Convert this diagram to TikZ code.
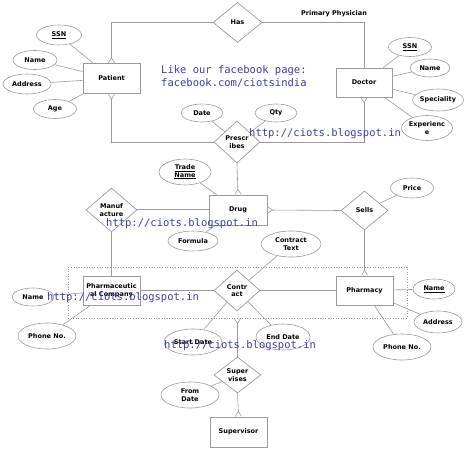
\documentclass[tikz,border=0pt]{standalone}
\usepackage{fontspec}
\setmainfont{DejaVu Sans}
\newfontfamily\linkfont{DejaVu Sans Mono}
\usepackage{xcolor}
\usepackage{tikz}
\usetikzlibrary{shapes.geometric,arrows.meta}
\definecolor{linegray}{RGB}{155,155,155}
\definecolor{linkblue}{RGB}{60,60,175}

\begin{document}
\begin{tikzpicture}[x=1pt, y=-1pt,
  every node/.style={font=\fontsize{6.5}{7.5}\selectfont\bfseries,
                     align=center, inner sep=0pt},
  entity/.style={draw=linegray, line width=0.8pt, fill=white,
                 minimum width=57pt, minimum height=30pt},
  rel/.style={diamond, draw=linegray, line width=0.7pt, fill=white,
              minimum width=47pt, minimum height=40pt},
  attr/.style={ellipse, draw=linegray, line width=0.6pt, fill=white},
  link/.style={draw=linegray, line width=0.6pt},
  crow/.tip={Straight Barb[reversed, length=5pt, width=6pt]},
  wm/.style={font=\fontsize{10.5}{13}\linkfont, text=linkblue,
             anchor=west, align=left}]
\useasboundingbox (0,0) rectangle (474,449);

% aggregation box
\node[draw=linegray, dotted, line width=0.6pt, minimum width=339pt,
      minimum height=51pt] (agg) at (237.5,292.5) {};

% entities
\node[entity] (patient) at (111.5,78.5) {Patient};
\node[entity, minimum width=56pt, minimum height=29pt] (doctor) at (364,82.5) {Doctor};
\node[entity, minimum width=58pt] (drug) at (238,210) {Drug};
\node[entity, minimum height=29pt] (pharma) at (111.5,290.5) {Pharmaceutic\\al Company};
\node[entity, minimum height=29pt] (pharmacy) at (364.5,290.5) {Pharmacy};
\node[entity] (supervisor) at (238.5,432) {Supervisor};

% relationships
\node[rel, minimum width=49pt] (has) at (237.5,22.5) {Has};
\node[rel, minimum width=46pt, minimum height=42pt] (presc) at (237,142) {Prescr\\ibes};
\node[rel, minimum width=51pt, minimum height=44pt] (manuf) at (111.5,210) {Manuf\\acture};
\node[rel, minimum height=39pt] (sells) at (364.5,210.5) {Sells};
\node[rel, minimum width=46pt, minimum height=41pt] (contract) at (237,290.5) {Contr\\act};
\node[rel, minimum height=36pt] (supv) at (237.5,375) {Super\\vises};

\node (phys) at (334,14) {Primary Physician};

% attributes
\node[attr, minimum width=45pt, minimum height=20pt] (pssn) at (59,35) {\underline{SSN}};
\node[attr, minimum width=44pt, minimum height=19pt] (pname) at (35,60) {Name};
\node[attr, minimum width=48pt, minimum height=20pt] (paddr) at (27,84) {Address};
\node[attr, minimum width=43pt, minimum height=19pt] (page) at (55,109) {Age};
\node[attr, minimum width=43pt, minimum height=19pt] (dssn) at (410,47) {\underline{SSN}};
\node[attr, minimum width=40pt, minimum height=18pt] (dname) at (430,68) {Name};
\node[attr, minimum width=50pt, minimum height=22pt] (dspec) at (438,100) {Speciality};
\node[attr, minimum width=45pt, minimum height=25pt] (dexp) at (427,128) {Experienc\\e};
\node[attr, minimum width=42pt, minimum height=18pt] (date) at (202,113) {Date};
\node[attr, minimum width=42pt, minimum height=18pt] (qty) at (276,113) {Qty};
\node[attr, minimum width=52pt, minimum height=26pt] (trade) at (185,172) {\underline{Trade}\\\underline{Name}};
\node[attr, minimum width=50pt, minimum height=20pt] (formula) at (193,241) {Formula};
\node[attr, minimum width=43pt, minimum height=20pt] (price) at (412,188) {Price};
\node[attr, minimum width=60pt, minimum height=26pt] (ctext) at (291,244) {Contract\\Text};
\node[attr, minimum width=42pt, minimum height=18pt] (phname) at (33,297) {Name};
\node[attr, minimum width=58pt, minimum height=26pt] (phphone) at (47,336) {Phone No.};
\node[attr, minimum width=42pt, minimum height=20pt] (pyname) at (434,289) {\underline{Name}};
\node[attr, minimum width=48pt, minimum height=22pt] (pyaddr) at (438,322) {Address};
\node[attr, minimum width=58pt, minimum height=26pt] (pyphone) at (402,347) {Phone No.};
\node[attr, minimum width=58pt, minimum height=26pt] (sdate) at (193,342) {Start Date};
\node[attr, minimum width=54pt, minimum height=26pt] (edate) at (283,337) {End Date};
\node[attr, minimum width=58pt, minimum height=26pt] (fdate) at (190,395) {From\\Date};

% attribute links
\foreach \a/\e in {pssn/patient, pname/patient, paddr/patient, page/patient,
                   dssn/doctor, dname/doctor, dspec/doctor, dexp/doctor,
                   date/presc, qty/presc, trade/drug, formula/drug,
                   price/sells, ctext/contract, sdate/contract, edate/contract,
                   phname/pharma, phphone/pharma, pyname/pharmacy,
                   pyaddr/pharmacy, pyphone/pharmacy, fdate/supv}
  \draw[link] (\a) -- (\e);

% relationship links
\draw[link, -crow] (has.west) -| (patient.north);
\draw[link] (has.east) -| (doctor.north);
\draw[link, crow-] (patient.south) |- (presc.west);
\draw[link, crow-] (doctor.south) |- (presc.east);
\draw[link, -crow] (presc.south) -- (drug.north);
\draw[link, double=white, double distance=0.7pt] (manuf.east) -- (drug.west);
\draw[link, crow-] (drug.east) -- (sells.west);
\draw[link, -crow] (sells.south) -- (pharmacy.north);
\draw[link] (manuf.south) -- (pharma.north);
\draw[link] (pharma.east) -- (contract.west);
\draw[link] (contract.east) -- (pharmacy.west);
\draw[link, crow-] (agg.south) -- (supv.north);
\draw[link, -crow] (supv.south) -- (supervisor.north);

% blue texts
\node[wm] (fb) at (161,76) {Like our facebook page:\\facebook.com/ciotsindia};
\node[wm] (url1) at (249,134) {http://ciots.blogspot.in};
\node[wm] (url2) at (106,224) {http://ciots.blogspot.in};
\node[wm] (url3) at (47,298) {http://ciots.blogspot.in};
\node[wm] (url4) at (164,346) {http://ciots.blogspot.in};
\end{tikzpicture}
\end{document}
